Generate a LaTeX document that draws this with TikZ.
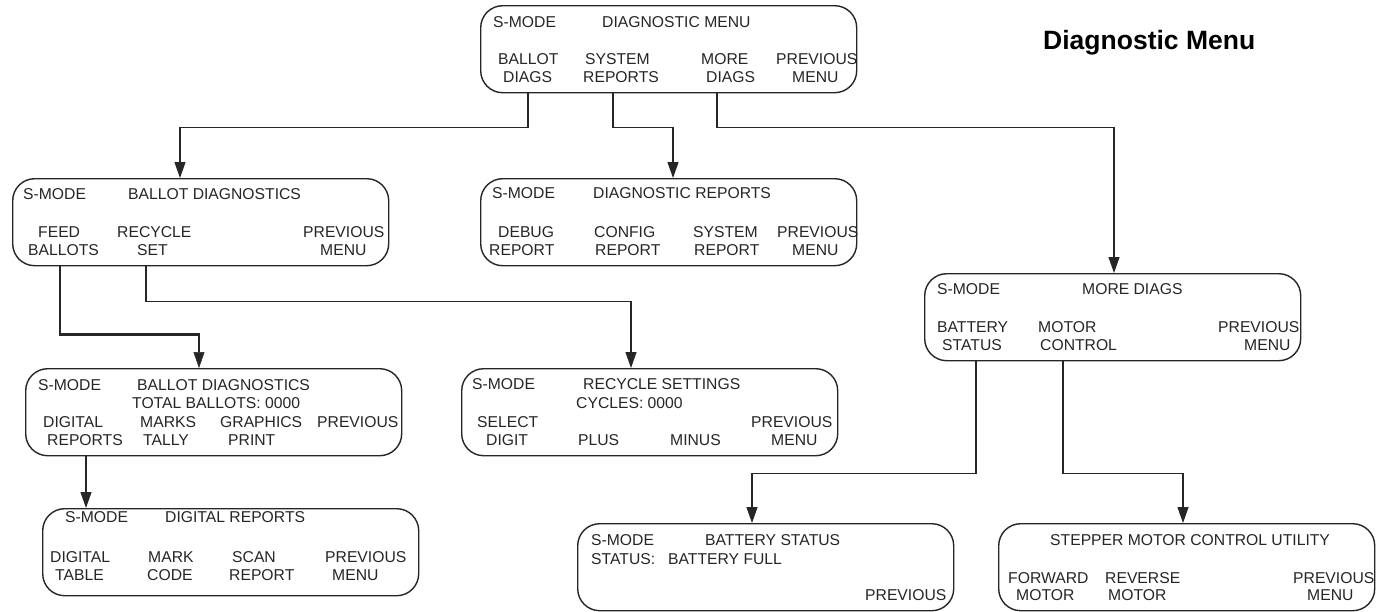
\documentclass[tikz,border=0pt]{standalone}
\usepackage{fontspec}
\setmainfont{Liberation Sans}
\usetikzlibrary{arrows.meta}
\newcommand\tlab[4]{\node[lbl] (#1) at (#2,#3+5.5) {#4};}
\begin{document}
\begin{tikzpicture}[x=1pt,y=-1pt,
  box/.style={draw=black!85, line width=1.4pt, rounded corners=22pt, minimum width=376pt, minimum height=87pt, inner sep=0pt, anchor=north west},
  lbl/.style={anchor=base west, inner sep=0pt, text=black!85, font=\fontsize{15.7}{18}\selectfont},
  conn/.style={draw=black!85, line width=1.2pt, -{Triangle[length=16pt,width=11pt]}},
  thickconn/.style={conn, line width=2.6pt, -{Triangle[length=16pt,width=11pt,line width=0.5pt]}}]
\useasboundingbox (0,0) rectangle (1394,611);
\fill[white] (0,0) rectangle (1394,611);

% title
\node[anchor=base west, inner sep=0pt, font=\bfseries\fontsize{26.5}{30}\selectfont] (title) at (1043,49.5) {Diagnostic Menu};

% boxes
\node[box] (menu)   at (480,5) {};
\node[box] (bdiag)  at (12,178) {};
\node[box] (drep)   at (480,178) {};
\node[box] (bdiag2) at (25,368) {};
\node[box] (rset)   at (461,368) {};
\node[box] (drpt)   at (42,508) {};
\node[box] (more)   at (924,273) {};
\node[box] (batt)   at (577,523) {};
\node[box] (step)   at (998,523) {};

% menu texts
\tlab{a1}{493}{22}{S-MODE}
\tlab{a2}{602}{22}{DIAGNOSTIC MENU}
\tlab{a3}{498}{59}{BALLOT}
\tlab{a4}{503}{77}{DIAGS}
\tlab{a5}{585}{59}{SYSTEM}
\tlab{a6}{583}{77}{REPORTS}
\tlab{a7}{701}{59}{MORE}
\tlab{a8}{706}{77}{DIAGS}
\tlab{a9}{776}{59}{PREVIOUS}
\tlab{a10}{792}{77}{MENU}

% ballot diagnostics
\tlab{b1}{23}{194}{S-MODE}
\tlab{b2}{128}{194}{BALLOT DIAGNOSTICS}
\tlab{b3}{38}{232}{FEED}
\tlab{b4}{28}{250}{BALLOTS}
\tlab{b5}{117}{232}{RECYCLE}
\tlab{b6}{137}{250}{SET}
\tlab{b7}{303}{232}{PREVIOUS}
\tlab{b8}{320}{250}{MENU}

% diagnostic reports
\tlab{c1}{492}{193}{S-MODE}
\tlab{c2}{593}{193}{DIAGNOSTIC REPORTS}
\tlab{c3}{498}{232}{DEBUG}
\tlab{c4}{489}{250}{REPORT}
\tlab{c5}{594}{232}{CONFIG}
\tlab{c6}{595}{250}{REPORT}
\tlab{c7}{693}{232}{SYSTEM}
\tlab{c8}{694}{250}{REPORT}
\tlab{c9}{777}{232}{PREVIOUS}
\tlab{c10}{792}{250}{MENU}

% ballot diagnostics 2
\tlab{d1}{38}{385}{S-MODE}
\tlab{d2}{137}{385}{BALLOT DIAGNOSTICS}
\tlab{d3}{132}{403}{TOTAL BALLOTS: 0000}
\tlab{d4}{43}{422}{DIGITAL}
\tlab{d5}{47}{440}{REPORTS}
\tlab{d6}{140}{422}{MARKS}
\tlab{d7}{143}{440}{TALLY}
\tlab{d8}{220}{422}{GRAPHICS}
\tlab{d9}{228}{440}{PRINT}
\tlab{d10}{317}{422}{PREVIOUS}

% recycle settings
\tlab{e1}{472}{384}{S-MODE}
\tlab{e2}{583}{384}{RECYCLE SETTINGS}
\tlab{e3}{576}{403}{CYCLES: 0000}
\tlab{e4}{477}{422}{SELECT}
\tlab{e5}{486}{440}{DIGIT}
\tlab{e6}{578}{440}{PLUS}
\tlab{e7}{670}{440}{MINUS}
\tlab{e8}{751}{422}{PREVIOUS}
\tlab{e9}{771}{440}{MENU}

% digital reports
\tlab{f1}{65}{517}{S-MODE}
\tlab{f2}{165}{517}{DIGITAL REPORTS}
\tlab{f3}{50}{557}{DIGITAL}
\tlab{f4}{55}{575}{TABLE}
\tlab{f5}{148}{557}{MARK}
\tlab{f6}{147}{575}{CODE}
\tlab{f7}{232}{557}{SCAN}
\tlab{f8}{229}{575}{REPORT}
\tlab{f9}{325}{557}{PREVIOUS}
\tlab{f10}{332}{575}{MENU}

% more diags
\tlab{g1}{937}{289}{S-MODE}
\tlab{g2}{1082}{289}{MORE DIAGS}
\tlab{g3}{937}{327}{BATTERY}
\tlab{g4}{942}{345}{STATUS}
\tlab{g5}{1038}{327}{MOTOR}
\tlab{g6}{1040}{345}{CONTROL}
\tlab{g7}{1218}{327}{PREVIOUS}
\tlab{g8}{1244}{345}{MENU}

% battery status
\tlab{h1}{591}{540}{S-MODE}
\tlab{h2}{705}{540}{BATTERY STATUS}
\tlab{h3}{591}{559}{STATUS:}
\tlab{h4}{668}{559}{BATTERY FULL}
\tlab{h5}{865}{595}{PREVIOUS}

% stepper
\tlab{k1}{1050}{540}{STEPPER MOTOR CONTROL UTILITY}
\tlab{k2}{1008}{578}{FORWARD}
\tlab{k3}{1016}{595}{MOTOR}
\tlab{k4}{1105}{578}{REVERSE}
\tlab{k5}{1108}{595}{MOTOR}
\tlab{k6}{1293}{578}{PREVIOUS}
\tlab{k7}{1307}{595}{MENU}

% connectors
\draw[conn] ([xshift=48pt]menu.south west) -- ++(0,34) -| ([xshift=168pt]bdiag.north west);
\draw[conn] ([xshift=133pt]menu.south west) -- ++(0,34) -| ([xshift=193pt]drep.north west);
\draw[conn] ([xshift=237pt]menu.south west) -- ++(0,34) -| ([xshift=190pt]more.north west);
\draw[thickconn] ([xshift=48pt]bdiag.south west) -- ++(0,68) -| ([xshift=174pt]bdiag2.north west);
\draw[conn] ([xshift=134pt]bdiag.south west) -- ++(0,35) -| ([xshift=170pt]rset.north west);
\draw[conn] ([xshift=61pt]bdiag2.south west) -- ([xshift=44pt]drpt.north west);
\draw[conn] ([xshift=52pt]more.south west) -- ++(0,112) -| ([xshift=175pt]batt.north west);
\draw[conn] ([xshift=139pt]more.south west) -- ++(0,112) -| ([xshift=185pt]step.north west);
\end{tikzpicture}
\end{document}
